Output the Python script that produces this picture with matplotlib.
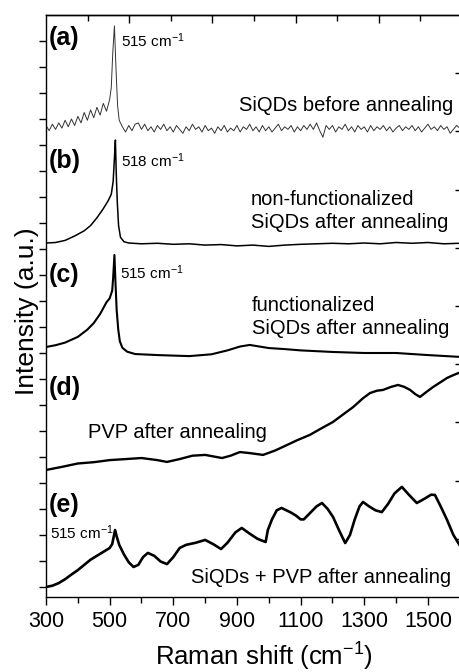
import numpy as np
import matplotlib
matplotlib.use('Agg')
import matplotlib.pyplot as plt

plt.rcParams['font.family'] = ['Liberation Sans', 'DejaVu Sans']
plt.rcParams['mathtext.fontset'] = 'custom'
plt.rcParams['mathtext.rm'] = 'Liberation Sans'
plt.rcParams['mathtext.it'] = 'Liberation Sans:italic'
plt.rcParams['mathtext.bf'] = 'Liberation Sans:bold'

a_x = list(range(300, 501, 10)) + [505, 510, 515, 520, 525, 530] + list(range(540, 1601, 10))
a_y = [17.75, 17.55, 17.8, 17.6, 17.85, 17.65, 17.95, 17.7, 18.0, 17.75, 18.1,
       17.85, 18.25, 17.95, 18.35, 18.05, 18.45, 18.15, 18.6, 18.3, 18.75,
       19.2, 20.6, 21.58, 19.9, 18.5, 17.95,
       17.7, 17.5, 17.75, 17.55, 17.8, 17.85, 17.6, 17.8, 17.55, 17.7, 17.5,
       17.75, 17.6, 17.8, 17.55, 17.7, 17.5, 17.75, 17.6, 17.45, 17.7, 17.55,
       17.8, 17.6, 17.7, 17.5, 17.75, 17.55, 17.65, 17.45, 17.7, 17.55, 17.75,
       17.5, 17.65, 17.55, 17.75, 17.5, 17.7, 17.6, 17.8, 17.55, 17.7, 17.5,
       17.75, 17.55, 17.7, 17.5, 17.65, 17.8, 17.55, 17.7, 17.6, 17.75, 17.5,
       17.7, 17.55, 17.75, 17.6, 17.8, 17.6, 17.85, 17.55, 17.3, 17.75, 17.6,
       17.75, 17.5, 17.7, 17.6, 17.8, 17.55, 17.7, 17.5, 17.75, 17.6, 17.7,
       17.5, 17.75, 17.55, 17.7, 17.6, 17.75, 17.55, 17.7, 17.5, 17.65, 17.75,
       17.55, 17.7, 17.6, 17.75, 17.55, 17.7, 17.5, 17.65, 17.8, 17.6, 17.7,
       17.55, 17.75, 17.6, 17.7, 17.45, 17.6, 17.75, 17.65]

# (b) non-functionalized SiQDs after annealing
b_x = [300, 330, 360, 390, 420, 440, 460, 480, 495, 505, 511, 515, 518, 521, 524,
       528, 534, 545, 560, 600, 650, 700, 750, 800, 850, 900, 950, 1000, 1050,
       1100, 1150, 1200, 1250, 1300, 1350, 1400, 1450, 1500, 1550, 1600]
b_y = [13.23, 13.25, 13.33, 13.5, 13.7, 13.9, 14.2, 14.55, 14.85, 15.1, 15.6, 16.5,
       17.19, 15.8, 14.8, 13.9, 13.45, 13.28, 13.23, 13.2, 13.22, 13.18, 13.2,
       13.15, 13.17, 13.12, 13.15, 13.1, 13.15, 13.18, 13.2, 13.22, 13.2, 13.23,
       13.2, 13.25, 13.22, 13.25, 13.2, 13.22]

# (c) functionalized SiQDs after annealing
c_x = [300, 330, 360, 400, 430, 450, 470, 490, 500, 508, 511, 515, 518, 522, 527,
       532, 540, 555, 580, 650, 750, 820, 870, 910, 940, 970, 1000, 1050, 1100,
       1200, 1300, 1400, 1500, 1600]
c_y = [9.23, 9.3, 9.4, 9.62, 9.9, 10.15, 10.5, 10.95, 11.1, 11.4, 11.9, 12.77, 11.8,
       10.65, 9.9, 9.45, 9.2, 9.05, 8.96, 8.92, 8.88, 8.95, 9.1, 9.25, 9.31, 9.25,
       9.19, 9.15, 9.1, 9.04, 9.0, 9.0, 8.92, 8.85]

# (d) PVP after annealing
d_x = [300, 350, 400, 450, 500, 550, 600, 650, 680, 720, 760, 800, 853, 880, 909,
       940, 982, 1020, 1057, 1090, 1129, 1165, 1202, 1235, 1265, 1295, 1318, 1340,
       1359, 1385, 1406, 1425, 1444, 1460, 1475, 1495, 1516, 1540, 1560, 1580, 1600]
d_y = [4.5, 4.62, 4.75, 4.8, 4.88, 4.92, 4.96, 4.88, 4.81, 4.92, 5.05, 5.08, 4.96,
       5.05, 5.19, 5.15, 5.08, 5.25, 5.46, 5.65, 5.85, 6.1, 6.35, 6.65, 6.92, 7.25,
       7.46, 7.55, 7.58, 7.7, 7.77, 7.7, 7.58, 7.42, 7.31, 7.5, 7.69, 7.88, 8.04,
       8.15, 8.25]

# (e) SiQDs + PVP after annealing
e_x = [300, 320, 340, 360, 380, 400, 420, 440, 460, 480, 500, 508, 513, 517, 522,
       530, 545, 560, 575, 590, 605, 620, 640, 660, 680, 700, 720, 740, 770, 800,
       825, 850, 870, 895, 915, 940, 965, 990, 997, 1010, 1025, 1040, 1055, 1067,
       1085, 1100, 1110, 1130, 1150, 1167, 1185, 1202, 1220, 1240, 1255, 1270,
       1285, 1296, 1315, 1335, 1355, 1375, 1395, 1418, 1440, 1465, 1490, 1510,
       1522, 1540, 1560, 1580, 1600]
e_y = [0.0, 0.05, 0.15, 0.3, 0.48, 0.65, 0.85, 1.05, 1.2, 1.35, 1.5, 1.65, 1.95,
       2.19, 1.95, 1.62, 1.25, 0.95, 0.77, 0.85, 1.15, 1.31, 1.2, 0.98, 0.88, 1.15,
       1.5, 1.62, 1.7, 1.81, 1.65, 1.46, 1.7, 2.1, 2.27, 2.05, 1.85, 1.73, 2.19,
       2.6, 2.95, 3.04, 2.95, 2.88, 2.75, 2.6, 2.6, 2.85, 3.1, 3.23, 3.0, 2.69, 2.2,
       1.69, 2.0, 2.6, 3.1, 3.27, 3.1, 2.95, 2.88, 3.2, 3.6, 3.85, 3.55, 3.23, 3.4,
       3.55, 3.54, 3.1, 2.58, 2.0, 1.6]

fig = plt.figure(figsize=(4.59, 6.72), dpi=100)
ax = fig.add_axes([46 / 459, 75 / 672, 416 / 459, 582 / 672])

ax.plot(a_x, a_y, color='#333333', lw=0.7)
ax.plot(b_x, b_y, color='black', lw=1.1)
ax.plot(c_x, c_y, color='black', lw=1.5)
ax.plot(d_x, d_y, color='black', lw=1.7)
ax.plot(e_x, e_y, color='black', lw=1.9)

ax.set_xlim(300, 1607)
ax.set_ylim(-0.385, 22.0)
ax.set_xticks([300, 500, 700, 900, 1100, 1300, 1500])
ax.set_xticks([400, 600, 800, 1000, 1200, 1400], minor=True)
ax.set_yticks(range(0, 22))
ax.set_yticklabels([])
ax.tick_params(axis='x', which='major', direction='out', length=6, width=1, labelsize=15.5, pad=4)
ax.tick_params(axis='x', which='minor', direction='out', length=4, width=1)
ax.tick_params(axis='y', direction='out', length=5, width=1)
for s in ['top', 'right']:
    ax.spines[s].set_visible(False)
ax.spines['left'].set_linewidth(1)
ax.spines['bottom'].set_linewidth(1)

# frame with inward ticks on top and right
axt = ax.twiny()
axt.set_xlim(0, 10)
axt.set_xticks([2, 4, 6, 8])
axt.set_xticks([1, 3, 5, 7, 9], minor=True)
axt.tick_params(axis='x', which='major', direction='in', length=6, width=1, labeltop=False)
axt.tick_params(axis='x', which='minor', direction='in', length=4, width=1)
axr = ax.twinx()
axr.set_ylim(0, 10)
axr.set_yticks(range(1, 10))
axr.tick_params(axis='y', direction='in', length=5, width=1, labelright=False)
for a in (axt, axr):
    a.spines['top'].set_linewidth(1)
    a.spines['right'].set_visible(False)
    a.spines['left'].set_visible(False)
    a.spines['bottom'].set_visible(False)

panel = [('(a)', 21.1), ('(b)', 16.4), ('(c)', 12.0), ('(d)', 7.65), ('(e)', 3.15)]
for lab, yy in panel:
    ax.text(309, yy, lab, fontsize=18, fontweight='bold', ha='left', va='center')

peaks = [(536, 21.0, '515'), (536, 16.4, '518'), (533, 12.1, '515'), (312, 2.1, '515')]
for xx, yy, val in peaks:
    ax.text(xx, yy, val + r' cm$^{-1}$', fontsize=11, ha='left', va='center')

ax.text(1579, 18.5, 'SiQDs before annealing', fontsize=14.5, ha='right', va='center')
ax.text(944, 14.46, 'non-functionalized\nSiQDs after annealing', fontsize=14.5,
        ha='left', va='center', linespacing=1.25)
ax.text(947, 10.37, 'functionalized\nSiQDs after annealing', fontsize=14.5,
        ha='left', va='center', linespacing=1.25)
ax.text(432, 5.96, 'PVP after annealing', fontsize=14.5, ha='left', va='center')
ax.text(1572, 0.35, 'SiQDs + PVP after annealing', fontsize=14.5, ha='right', va='center')

fig.text(264 / 459, 1 - 657 / 672, r'Raman shift (cm$^{-1}$)', fontsize=18.5, ha='center', va='center')
fig.text(27 / 459, 1 - 311 / 672, 'Intensity (a.u.)', fontsize=19, ha='center', va='center', rotation=90)

fig.savefig('out.png', dpi=100)
